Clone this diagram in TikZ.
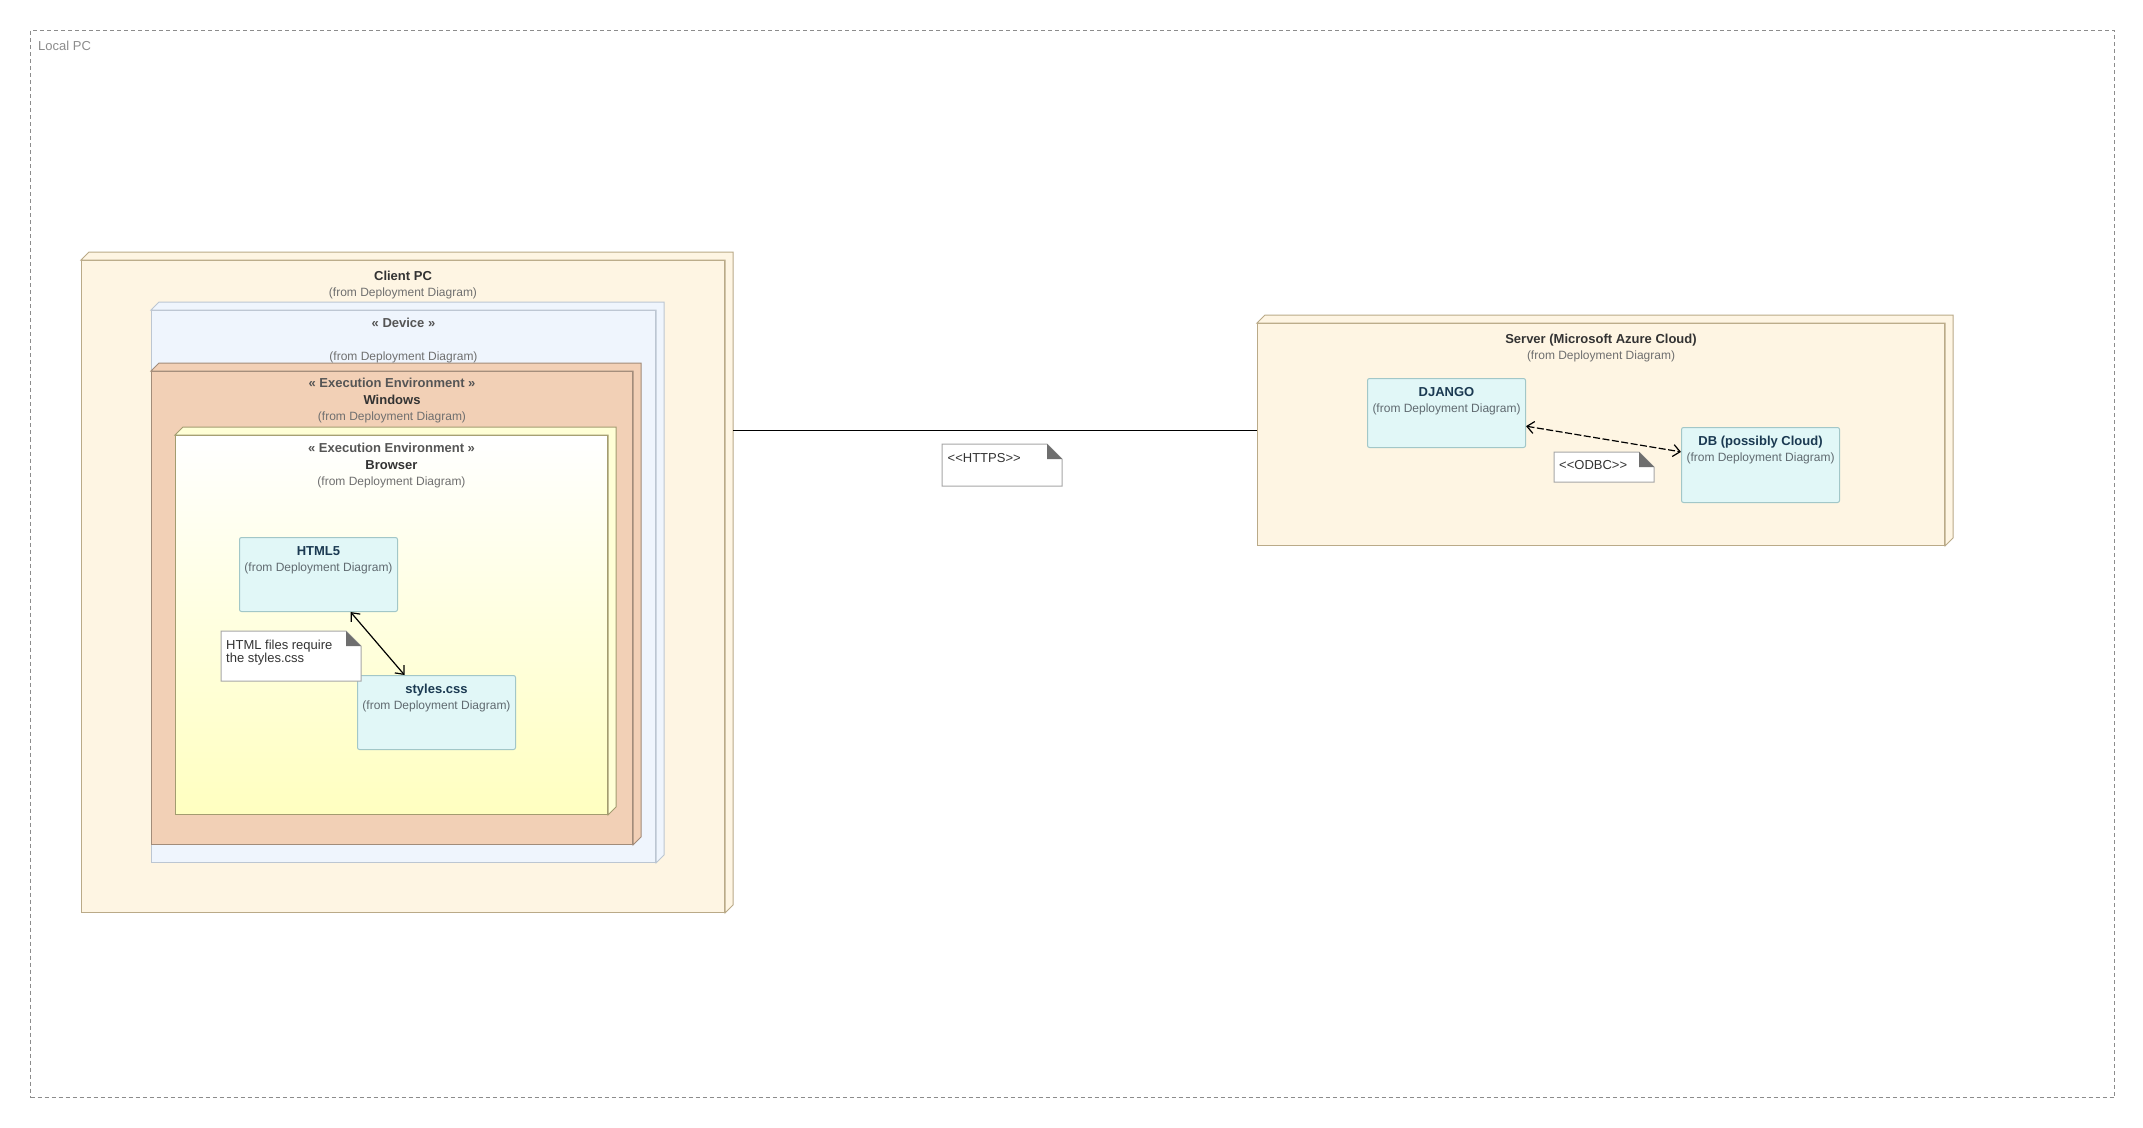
\documentclass[tikz,border=0pt]{standalone}
\usepackage{fontspec}
\setmainfont{Liberation Sans}
\usetikzlibrary{arrows.meta}
\definecolor{clientfill}{HTML}{FEF5E3}
\definecolor{clientline}{HTML}{BAAA88}
\definecolor{devicefill}{HTML}{EFF5FD}
\definecolor{deviceline}{HTML}{BCC6D2}
\definecolor{winfill}{HTML}{F2D0B6}
\definecolor{winline}{HTML}{A28C7A}
\definecolor{browserbot}{HTML}{FFFFC0}
\definecolor{browserside}{HTML}{FFFFD6}
\definecolor{browserline}{HTML}{A39C70}
\definecolor{compfill}{HTML}{E1F7F7}
\definecolor{compline}{HTML}{A2C7C8}
\definecolor{notefold}{HTML}{6E6E6E}
\definecolor{noteline}{HTML}{A6A6A6}
\definecolor{frameline}{HTML}{8C8C8C}
\definecolor{titletext}{HTML}{333333}
\definecolor{stereotext}{HTML}{555555}
\definecolor{fromtext}{HTML}{6F6F6F}
\definecolor{comptext}{HTML}{1B3A52}
\definecolor{compfrom}{HTML}{606A70}

\begin{document}
\begin{tikzpicture}[x=1pt, y=-1pt,
box/.style = {draw, line width=1pt, anchor=north west, inner sep=0pt},
comp/.style = {box, fill=compfill, draw=compline, rounded corners=2pt, minimum width=158},
boxtitle/.style = {font=\fontsize{13}{16}\selectfont\bfseries, text=titletext,
            anchor=base, inner sep=0pt},
boxstereo/.style = {boxtitle, text=stereotext},
comptitle/.style = {boxtitle, text=comptext},
boxfrom/.style = {font=\fontsize{12}{16}\selectfont, text=fromtext,
            anchor=base, inner sep=0pt},
note/.style = {fill=white, draw=noteline, line width=1pt},
notetext/.style = {font=\fontsize{13}{13}\selectfont, text=titletext,
            anchor=base west, inner sep=0pt},
dep/.style = {{Straight Barb[length=7pt,width=12pt]}-{Straight Barb[length=7pt,width=12pt]},
            line width=1.2pt}
                ]
    \def\dz{8}
    \fill[white] (0,0) rectangle (2143,1127);
    % Local PC frame
    \node[box, draw=frameline, dash pattern=on 4pt off 3pt,
        minimum width=2084, minimum height=1067] (localpc) at (30,30) {};
    \node[notetext, text=frameline] (localname) at ([shift={(8,20.7)}]localpc.north west) {Local PC};
    % nodes
    \node[box, fill=clientfill, draw=clientline, minimum width=643, minimum height=652] (client) at (81,260) {};
    \node[box, fill=clientfill, draw=clientline, minimum width=687, minimum height=222] (server) at (1257,323) {};
    \node[box, fill=devicefill, draw=deviceline, minimum width=504, minimum height=552] (device) at (151,310) {};
    \node[box, fill=winfill, draw=winline, minimum width=481, minimum height=473] (windows) at (151,371) {};
    \node[box, top color=white, bottom color=browserbot, draw=browserline,
        minimum width=432, minimum height=379] (browser) at (175,435) {};
    \foreach \n/\f/\c in {client/clientfill/clientline, server/clientfill/clientline,
            device/devicefill/deviceline, windows/winfill/winline, browser/browserside/browserline}
        \filldraw[fill=\f, draw=\c, line width=1pt] (\n.north west) -- ++(\dz,-\dz)
            -- ([shift={(\dz,-\dz)}]\n.north east) -- ([shift={(\dz,-\dz)}]\n.south east)
            -- (\n.south east) -- (\n.north east) -- cycle;
    % node texts
    \node[boxtitle] (clientname) at ([yshift=-20.5pt]client.north) {Client PC};
    \node[boxfrom] (clientfrom) at ([yshift=-36.5pt]client.north) {(from Deployment Diagram)};
    \node[boxtitle] (servername) at ([yshift=-20.7pt]server.north) {Server (Microsoft Azure Cloud)};
    \node[boxfrom] (serverfrom) at ([yshift=-36.3pt]server.north) {(from Deployment Diagram)};
    \node[boxstereo] (devicestereo) at ([yshift=-17pt]device.north) {« Device »};
    \node[boxfrom] (devicefrom) at ([yshift=-50pt]device.north) {(from Deployment Diagram)};
    \node[boxstereo] (winstereo) at ([yshift=-16.5pt]windows.north) {« Execution Environment »};
    \node[boxtitle] (winname) at ([yshift=-33.5pt]windows.north) {Windows};
    \node[boxfrom] (winfrom) at ([yshift=-49.5pt]windows.north) {(from Deployment Diagram)};
    \node[boxstereo] (browserstereo) at ([yshift=-17pt]browser.north) {« Execution Environment »};
    \node[boxtitle] (browsername) at ([yshift=-34.4pt]browser.north) {Browser};
    \node[boxfrom] (browserfrom) at ([yshift=-50.3pt]browser.north) {(from Deployment Diagram)};
    % components
    \foreach \n/\x/\y/\h/\t in {html/239/537/74/HTML5, css/357/675/74/styles.css,
            django/1367/378/69/DJANGO, db/1681/427/75/{DB (possibly Cloud)}} {
        \node[comp, minimum height=\h] (\n) at (\x,\y) {};
        \node[comptitle] (\n-name) at ([yshift=-18.7pt]\n.north) {\t};
        \node[boxfrom, text=compfrom] (\n-from) at ([yshift=-34.3pt]\n.north) {(from Deployment Diagram)};
    }
    % connectors
    \coordinate (wire) at (0,430);
    \draw[line width=1pt] ([xshift=\dz pt]client.east |- wire) -- (server.west |- wire);
    \draw[dep] (html) -- (css);
    \draw[dep, dash pattern=on 7pt off 2.5pt] (django) -- (db);
    % notes
    \foreach \n/\x/\y/\w/\h in {httpsnote/942/444/120/42, odbcnote/1554/452/100/30, cssnote/221/631/140/50} {
        \coordinate (\n) at (\x,\y);
        \filldraw[note] (\n) -- ++({\w-15},0) -- ++(15,15) -- ++(0,{\h-15}) -- ++(-\w,0) -- cycle;
        \fill[notefold] (\n) ++({\w-15},0) -- ++(0,15) -- ++(15,0) -- cycle;
    }
    \node[notetext] (httpstext) at ([shift={(5.5,18)}]httpsnote) {<\kern0pt<HTTPS>\kern0pt>};
    \node[notetext] (odbctext) at ([shift={(5,17.7)}]odbcnote) {<\kern0pt<ODBC>\kern0pt>};
    \node[notetext, anchor=north west, align=left] (csstext) at ([shift={(5,9.2)}]cssnote)
        {HTML files require\\the styles.css};
\end{tikzpicture}
\end{document}
